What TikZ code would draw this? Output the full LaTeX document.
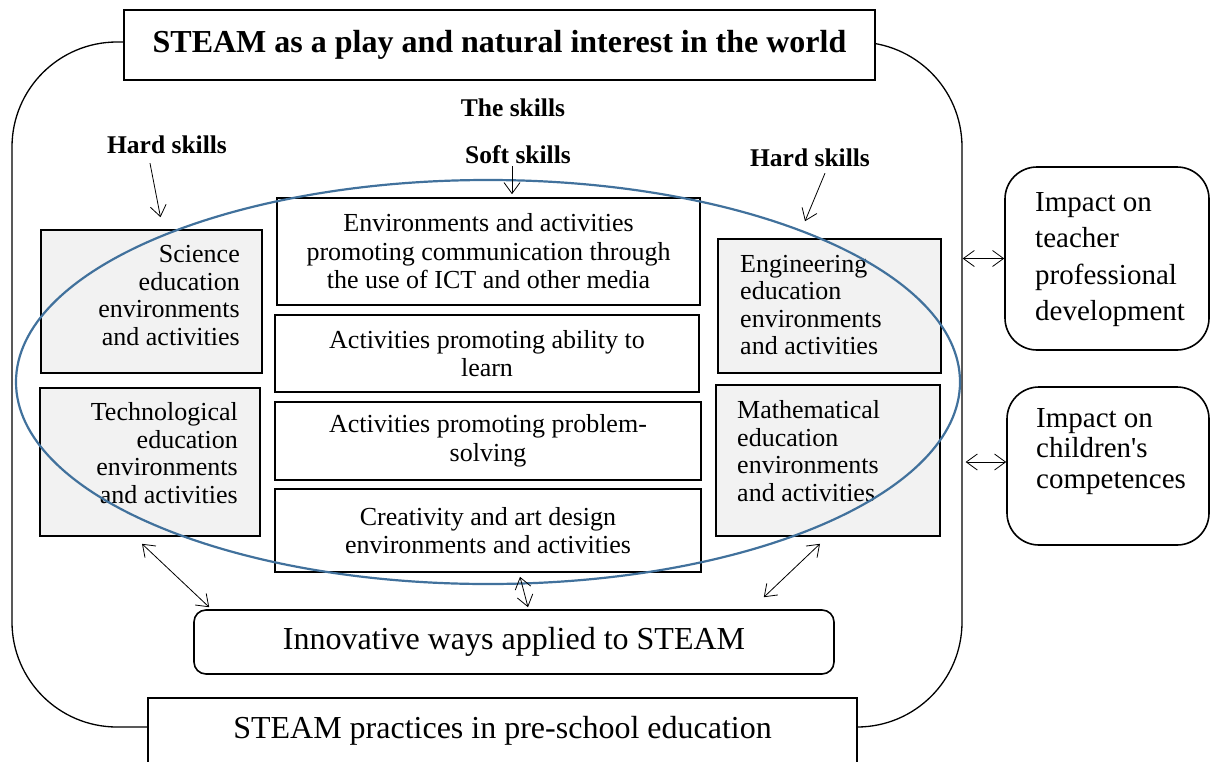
\documentclass[tikz,border=0pt]{standalone}
\usepackage{fontspec}
\setmainfont{Liberation Serif}
\usetikzlibrary{arrows.meta}
\definecolor{ringblue}{HTML}{41719C}
\definecolor{boxgray}{HTML}{F2F2F2}

\begin{document}
\begin{tikzpicture}[x=1pt,y=-1pt,
    >={Straight Barb[length=11pt,width=16pt]},
    box/.style={draw,line width=1.6pt,inner sep=0pt},
    hardbox/.style={box,fill=boxgray},
    softbox/.style={box,fill=white,align=center,font=\fontsize{26}{28.5}\selectfont},
    skill/.style={inner sep=0pt,font=\bfseries\fontsize{25.5}{28}\selectfont},
    body/.style={inner sep=0pt,font=\fontsize{26}{27.5}\selectfont},
    impact/.style={box,rounded corners=32pt,fill=white},
    link/.style={line width=0.8pt}]
            \clip (0,0) rectangle (1210,761);

            % Outer frame
            \node[draw,line width=1.3pt,rounded corners=105pt,inner sep=0pt,
                minimum width=950pt,minimum height=685pt] (frame) at (487,384.5) {};

            % Title and skill headings
            \node[box,fill=white,minimum width=751pt,minimum height=70pt,
                font=\bfseries\fontsize{32}{38}\selectfont] (title) at (499.5,45)
                {STEAM as a play and natural interest in the world};
            \node[skill] (skills) at (513,108) {The skills};
            \node[skill] (hardL) at (167,145) {Hard skills};
            \node[skill] (soft) at (518,155) {Soft skills};
            \node[skill] (hardR) at (810,158) {Hard skills};

            % Hard skills, left
            \node[hardbox,minimum width=221pt,minimum height=143pt] (sci) at (151.5,301.5) {};
            \node[body,align=right,anchor=east] (sciTxt) at (240,295.5)
                {Science\\education\\environments\\and activities};
            \node[hardbox,minimum width=220pt,minimum height=148pt] (tech) at (150,462) {};
            \node[body,align=right,anchor=east] (techTxt) at (238,453)
                {Technological\\education\\environments\\and activities};

            % Hard skills, right
            \node[hardbox,minimum width=223pt,minimum height=134pt] (eng) at (829.5,306) {};
            \node[body,align=left,anchor=west] (engTxt) at (740,305)
                {Engineering\\education\\environments\\and activities};
            \node[hardbox,minimum width=224pt,minimum height=151pt] (math) at (828,460.5) {};
            \node[body,align=left,anchor=west] (mathTxt) at (737,451)
                {Mathematical\\education\\environments\\and activities};

            % Soft skills
            \node[softbox,minimum width=423pt,minimum height=107pt] (comm) at (488.5,251.5)
                {Environments and activities\\promoting communication through\\the use of ICT and other media};
            \node[softbox,minimum width=424pt,minimum height=77pt] (learn) at (487,353.5)
                {Activities promoting ability to\\learn};
            \node[softbox,minimum width=426pt,minimum height=78pt] (prob) at (488,441)
                {Activities promoting problem-\\solving};
            \node[softbox,minimum width=426pt,minimum height=83pt] (creat) at (488,530.5)
                {Creativity and art design\\environments and activities};

            % Bottom boxes
            \node[box,rounded corners=12pt,fill=white,minimum width=640pt,minimum height=64pt,
                font=\fontsize{32}{38}\selectfont] (innov) at (514,642)
                {Innovative ways applied to STEAM};
            \node[box,fill=white,minimum width=709pt,minimum height=66pt,
                font=\fontsize{32}{38}\selectfont] (practice) at (502.5,731)
                {STEAM practices in pre-school education};

            % Impact boxes
            \node[impact,minimum width=204pt,minimum height=183pt] (teach) at (1107,258.5) {};
            \node[inner sep=0pt,align=left,anchor=west,font=\fontsize{29}{36.3}\selectfont]
                (teachTxt) at (1035,259.5) {Impact on\\teacher\\professional\\development};
            \node[impact,minimum width=202pt,minimum height=158pt] (child) at (1108,466) {};
            \node[inner sep=0pt,align=left,anchor=west,font=\fontsize{29}{30.5}\selectfont]
                (childTxt) at (1036,451.5) {Impact on\\children\textquotesingle s\\competences};

            % Ring round the skills
            \draw[ringblue,line width=2.2pt] (488,382) ellipse [x radius=472, y radius=202];

            % Arrows
            \draw[link,->] ([xshift=-17pt,yshift=-9pt]hardL.south) -- ([xshift=9pt,yshift=12pt]sci.north);
            \draw[link,->] ([xshift=-6pt,yshift=-2pt]soft.south) -- ([xshift=23.5pt,yshift=3pt]comm.north);
            \draw[link,->] ([xshift=15pt,yshift=-6pt]hardR.south) -- ([xshift=-24.5pt,yshift=17pt]eng.north);
            \draw[link,<->] (frame.east |- teach.west) -- (teach.west);
            \draw[link,<->] ([xshift=3pt,yshift=4pt]frame.east |- child.west) -- ([yshift=4pt]child.west);
            \draw[link,<->] ([xshift=-8pt,yshift=-7pt]tech.south) -- ([xshift=16pt,yshift=2pt]innov.north west);
            \draw[link,<->] ([xshift=32pt,yshift=-4pt]creat.south) -- ([xshift=14pt,yshift=2pt]innov.north);
            \draw[link,<->] ([xshift=-8pt,yshift=-7pt]math.south) -- ([xshift=-71pt,yshift=12pt]innov.north east);
        \end{tikzpicture}
\end{document}
